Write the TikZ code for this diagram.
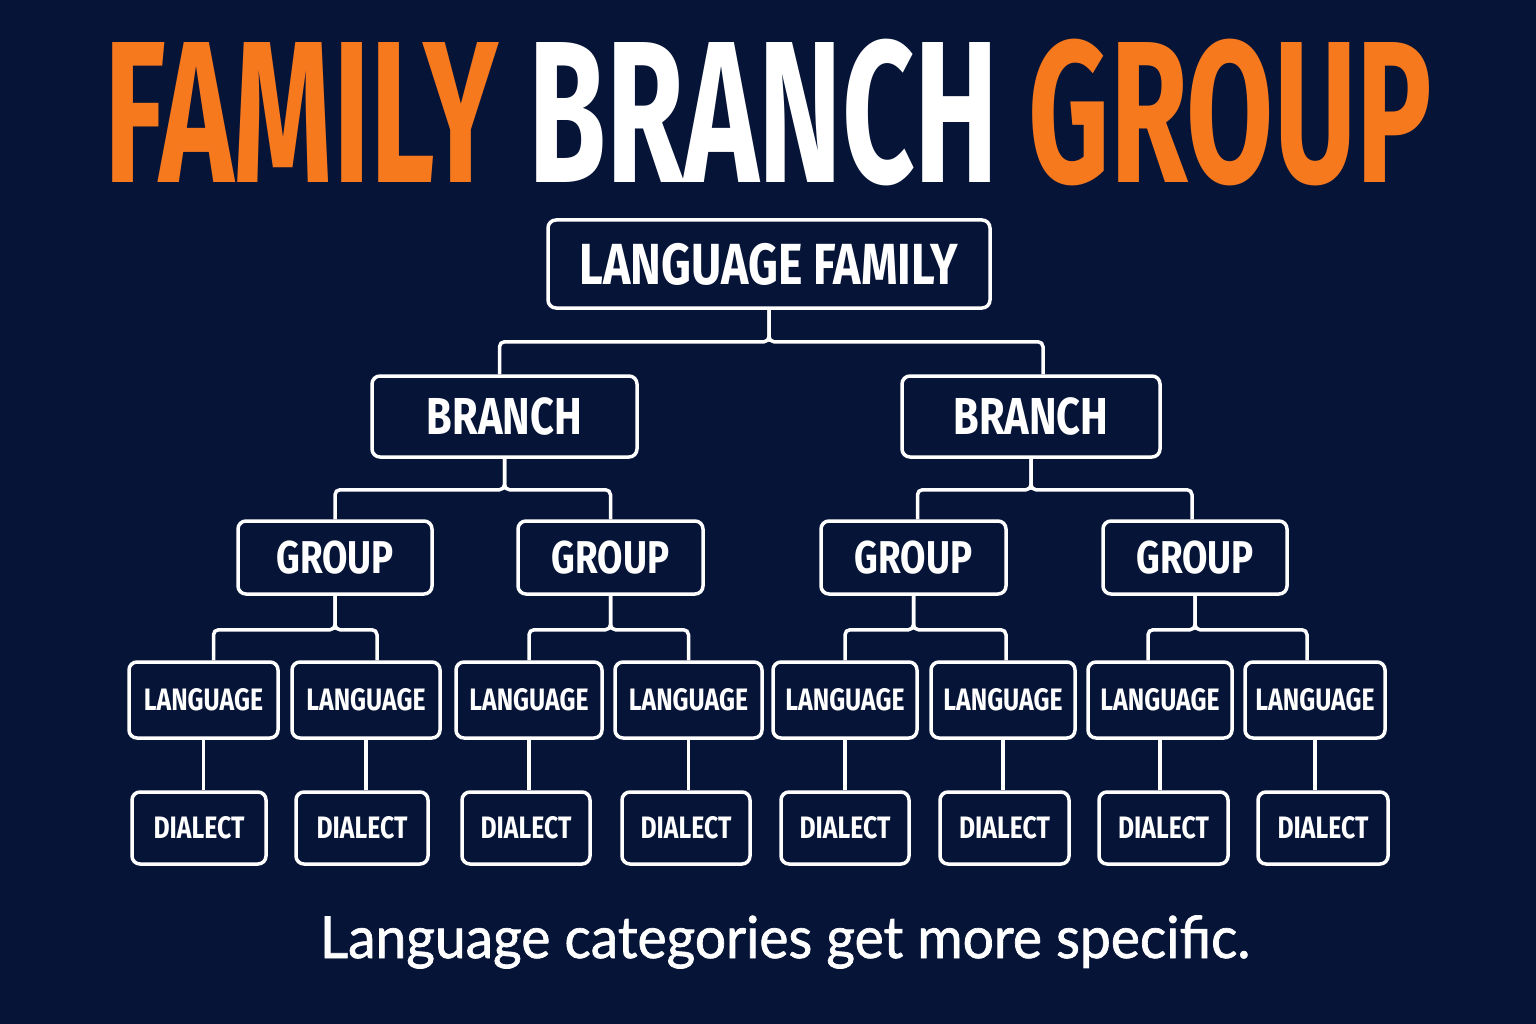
\documentclass[tikz,border=0pt]{standalone}
\usepackage{fontspec}
\usetikzlibrary{positioning, calc}
\newfontfamily\titlefont[FakeStretch=0.625]{Fira Sans}
\newfontfamily\boxfont[FakeStretch=0.8]{Fira Sans}
\newfontfamily\footfont[FakeBold=1.2, FakeStretch=0.95]{Lato}
\definecolor{navy}{RGB}{6,20,56}
\definecolor{flame}{RGB}{247,121,30}
\tikzstyle{tier} = [rectangle, draw=white, line width=3.5pt, fill=navy, rounded corners=8pt, text=white, inner sep=0pt, font=\boxfont\bfseries]
\tikzstyle{famtier} = [tier, minimum width=442pt, minimum height=88pt, font=\boxfont\bfseries\fontsize{58}{58}\selectfont]
\tikzstyle{branchtier} = [tier, minimum height=81pt, font=\boxfont\bfseries\fontsize{52}{52}\selectfont]
\tikzstyle{grouptier} = [tier, minimum height=73pt, font=\boxfont\bfseries\fontsize{46}{46}\selectfont]
\tikzstyle{langtier} = [tier, minimum height=76pt, font=\boxfont\bfseries\fontsize{31}{31}\selectfont]
\tikzstyle{dialtier} = [tier, minimum height=72pt, font=\boxfont\bfseries\fontsize{31}{31}\selectfont]
\tikzstyle{link} = [draw=white, line width=3.5pt, rounded corners=5pt]
\begin{document}
\begin{tikzpicture}[x=1pt, y=-1pt]
            \fill[navy] (0,0) rectangle (1536,1024);
            \useasboundingbox (0,0) rectangle (1536,1024);
            % Title
            \node[anchor=base, font=\titlefont\bfseries\fontsize{202}{202}\selectfont, inner sep=0pt] (title) at (768,183)
                {\textcolor{flame}{FAMILY} \textcolor{white}{BRANCH} \textcolor{flame}{GROUP}};

            % Nodes
            \node [famtier] (fam) at (769,264) {LANGUAGE FAMILY};
            \node [branchtier, minimum width=265pt] (br1) at (504.5,416.5) {BRANCH};
            \node [branchtier, minimum width=258pt] (br2) at (1031,416.5) {BRANCH};
            \node [grouptier, minimum width=194pt] (gr1) at (335,557.5) {GROUP};
            \node [grouptier, minimum width=185pt] (gr2) at (610.5,557.5) {GROUP};
            \node [grouptier, minimum width=185pt] (gr3) at (913.5,557.5) {GROUP};
            \node [grouptier, minimum width=184pt] (gr4) at (1195,557.5) {GROUP};
            \node [langtier, minimum width=149pt] (la1) at (203.5,700) {LANGUAGE};
            \node [langtier, minimum width=148pt] (la2) at (366,700) {LANGUAGE};
            \node [langtier, minimum width=146pt] (la3) at (529,700) {LANGUAGE};
            \node [langtier, minimum width=147pt] (la4) at (688.5,700) {LANGUAGE};
            \node [langtier, minimum width=144pt] (la5) at (845,700) {LANGUAGE};
            \node [langtier, minimum width=144pt] (la6) at (1003,700) {LANGUAGE};
            \node [langtier, minimum width=144pt] (la7) at (1160,700) {LANGUAGE};
            \node [langtier, minimum width=140pt] (la8) at (1315,700) {LANGUAGE};
            \node [dialtier, minimum width=134pt] (di1) at (199,828) {DIALECT};
            \node [dialtier, minimum width=132pt] (di2) at (362,828) {DIALECT};
            \node [dialtier, minimum width=128pt] (di3) at (526,828) {DIALECT};
            \node [dialtier, minimum width=128pt] (di4) at (686,828) {DIALECT};
            \node [dialtier, minimum width=128pt] (di5) at (845,828) {DIALECT};
            \node [dialtier, minimum width=129pt] (di6) at (1004.5,828) {DIALECT};
            \node [dialtier, minimum width=129pt] (di7) at (1163.5,828) {DIALECT};
            \node [dialtier, minimum width=130pt] (di8) at (1323,828) {DIALECT};

            % Lines
            \path [link] (fam.south) -- ++(0,32) -| ([xshift=-5pt]br1.north);
            \path [link] (fam.south) -- ++(0,32) -| ([xshift=12pt]br2.north);
            \path [link] (br1.south) -- ++(0,31) -| (gr1.north);
            \path [link] (br1.south) -- ++(0,31) -| (gr2.north);
            \path [link] (br2.south) -- ++(0,31) -| ([xshift=4pt]gr3.north);
            \path [link] (br2.south) -- ++(0,31) -| ([xshift=-3pt]gr4.north);
            \path [link] (gr1.south) -- ++(0,34) -| ([xshift=10pt]la1.north);
            \path [link] (gr1.south) -- ++(0,34) -| ([xshift=11pt]la2.north);
            \path [link] (gr2.south) -- ++(0,34) -| (la3.north);
            \path [link] (gr2.south) -- ++(0,34) -| (la4.north);
            \path [link] (gr3.south) -- ++(0,34) -| (la5.north);
            \path [link] (gr3.south) -- ++(0,34) -| ([xshift=3pt]la6.north);
            \path [link] (gr4.south) -- ++(0,34) -| ([xshift=-12pt]la7.north);
            \path [link] (gr4.south) -- ++(0,34) -| ([xshift=-8pt]la8.north);
            \path [link] (la1.south) -- (la1.south |- di1.north);
            \path [link] (la2.south) -- (la2.south |- di2.north);
            \path [link] (la3.south) -- (la3.south |- di3.north);
            \path [link] (la4.south) -- (la4.south |- di4.north);
            \path [link] (la5.south) -- (la5.south |- di5.north);
            \path [link] (la6.south) -- (la6.south |- di6.north);
            \path [link] (la7.south) -- (la7.south |- di7.north);
            \path [link] (la8.south) -- (la8.south |- di8.north);

            % Footer
            \node[anchor=base, text=white, inner sep=0pt, font=\footfont\fontsize{58}{58}\selectfont] (foot) at (785,958)
                {Language categories get more specific.};
        \end{tikzpicture}
\end{document}
